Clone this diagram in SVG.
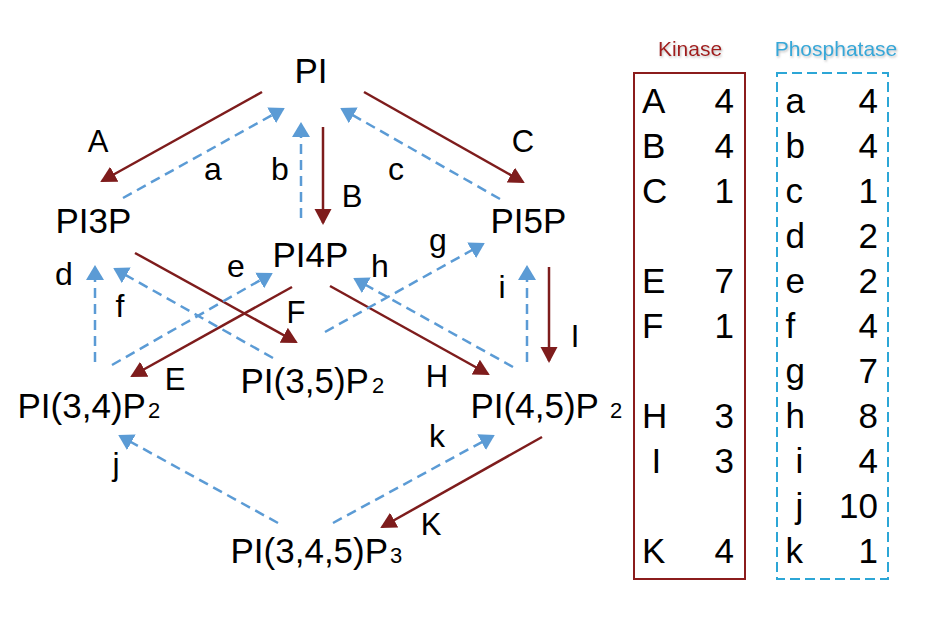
<svg xmlns="http://www.w3.org/2000/svg" width="932" height="635" viewBox="0 0 932 635">
  <style>
    .node { font-family: "Liberation Sans", Arial, sans-serif; font-size: 35px; fill: #000; }
    .sub { font-size: 22px; }
    .lbl { font-family: "Liberation Sans", Arial, sans-serif; font-size: 31px; fill: #000; text-anchor: middle; }
    .lc { font-size: 32px; }
    .kin { stroke: #7E1C1C; stroke-width: 2.5; fill: none; marker-end: url(#headK); }
    .pho { stroke: #5B9BD5; stroke-width: 2.5; fill: none; stroke-dasharray: 10 6; marker-end: url(#headP); }
    .tbl { font-family: "Liberation Sans", Arial, sans-serif; font-size: 35px; fill: #000; }
    .num { text-anchor: end; }
    .hdr { font-family: "Liberation Sans", Arial, sans-serif; font-size: 21px; text-anchor: middle; filter: url(#shadow); }
  </style>
  <defs>
    <marker id="headK" markerUnits="userSpaceOnUse" markerWidth="17" markerHeight="18" refX="14" refY="8.5" orient="auto">
      <path d="M0,0 L16,8.5 L0,17 Z" fill="#7E1C1C"/>
    </marker>
    <marker id="headP" markerUnits="userSpaceOnUse" markerWidth="16" markerHeight="18" refX="13" refY="9" orient="auto">
      <path d="M0,0 L15,9 L0,18 Z" fill="#5B9BD5"/>
    </marker>
    <filter id="shadow" x="-10%" y="-20%" width="120%" height="150%">
      <feDropShadow dx="1" dy="1.5" stdDeviation="0.8" flood-color="#888" flood-opacity="0.55"/>
    </filter>
  </defs>
  <rect width="932" height="635" fill="#fff"/>

  <g id="connectors">
    <g id="edge-A"><line class="kin" x1="262" y1="92" x2="102" y2="181"/><text class="lbl" x="98" y="152">A</text></g>
    <g id="edge-B"><line class="kin" x1="323" y1="127" x2="323" y2="223"/><text class="lbl" x="352" y="207">B</text></g>
    <g id="edge-C"><line class="kin" x1="364" y1="92" x2="523" y2="182"/><text class="lbl" x="523" y="152">C</text></g>
    <g id="edge-E"><line class="kin" x1="292" y1="287" x2="132" y2="376"/><text class="lbl" x="175" y="390">E</text></g>
    <g id="edge-F"><line class="kin" x1="135" y1="253" x2="296" y2="342"/><text class="lbl" x="296" y="323">F</text></g>
    <g id="edge-H"><line class="kin" x1="330" y1="286" x2="488" y2="374"/><text class="lbl" x="437" y="387">H</text></g>
    <g id="edge-I"><line class="kin" x1="549" y1="267" x2="549" y2="361"/><text class="lbl" x="575" y="347">I</text></g>
    <g id="edge-K"><line class="kin" x1="542" y1="437" x2="382" y2="527"/><text class="lbl" x="431" y="535">K</text></g>

    <g id="edge-a"><line class="pho" x1="123" y1="198" x2="283" y2="109"/><text class="lbl lc" x="213" y="180">a</text></g>
    <g id="edge-b"><line class="pho" x1="301" y1="218" x2="301" y2="124"/><text class="lbl lc" x="280" y="180">b</text></g>
    <g id="edge-c"><line class="pho" x1="500" y1="199" x2="342" y2="109"/><text class="lbl lc" x="396" y="180">c</text></g>
    <g id="edge-d"><line class="pho" x1="95" y1="362" x2="95" y2="267"/><text class="lbl lc" x="64" y="285">d</text></g>
    <g id="edge-e"><line class="pho" x1="112" y1="365" x2="271" y2="274"/><text class="lbl lc" x="236" y="277">e</text></g>
    <g id="edge-f"><line class="pho" x1="273" y1="358" x2="115" y2="269"/><text class="lbl lc" x="120" y="317">f</text></g>
    <g id="edge-g"><line class="pho" x1="325" y1="332" x2="483" y2="244"/><text class="lbl lc" x="438" y="251">g</text></g>
    <g id="edge-h"><line class="pho" x1="513" y1="367" x2="355" y2="279"/><text class="lbl lc" x="380" y="277">h</text></g>
    <g id="edge-i"><line class="pho" x1="527" y1="362" x2="527" y2="267"/><text class="lbl lc" x="502" y="298">i</text></g>
    <g id="edge-j"><line class="pho" x1="278" y1="523" x2="120" y2="436"/><text class="lbl lc" x="116" y="475">j</text></g>
    <g id="edge-k"><line class="pho" x1="333" y1="523" x2="493" y2="436"/><text class="lbl lc" x="437" y="447">k</text></g>
  </g>

  <g id="node-PI"><text class="node" x="294.5" y="83">PI</text></g>
  <g id="node-PI3P"><text class="node" x="55.5" y="233">PI3P</text></g>
  <g id="node-PI4P"><text class="node" x="272.5" y="267">PI4P</text></g>
  <g id="node-PI5P"><text class="node" x="490.5" y="233">PI5P</text></g>
  <g id="node-PI34P2"><text class="node" x="17.5" y="418">PI(3,4)P<tspan class="sub" dx="2">2</tspan></text></g>
  <g id="node-PI35P2"><text class="node" x="240.5" y="393">PI(3,5)P<tspan class="sub" dx="3">2</tspan></text></g>
  <g id="node-PI45P2"><text class="node" x="470.5" y="418">PI(4,5)P<tspan class="sub" dx="11">2</tspan></text></g>
  <g id="node-PI345P3"><text class="node" x="230.5" y="563">PI(3,4,5)P<tspan class="sub" dx="2">3</tspan></text></g>

  <g id="kinase-table">
    <text class="hdr" x="690" y="56" fill="#A21D1D">Kinase</text>
    <rect x="634" y="73" width="111" height="506" fill="none" stroke="#8B1C1C" stroke-width="2"/>
    <g class="tbl">
      <text x="642" y="113">A</text><text class="num" x="734" y="113">4</text>
      <text x="642" y="158">B</text><text class="num" x="734" y="158">4</text>
      <text x="642" y="203">C</text><text class="num" x="734" y="203">1</text>
      <text x="642" y="293">E</text><text class="num" x="734" y="293">7</text>
      <text x="642" y="338">F</text><text class="num" x="734" y="338">1</text>
      <text x="642" y="428">H</text><text class="num" x="734" y="428">3</text>
      <text x="651.5" y="473">I</text><text class="num" x="734" y="473">3</text>
      <text x="642" y="563">K</text><text class="num" x="734" y="563">4</text>
    </g>
  </g>

  <g id="phosphatase-table">
    <text class="hdr" x="836" y="56" fill="#36A8D8">Phosphatase</text>
    <rect x="777" y="73" width="111" height="506" fill="none" stroke="#2CA6D6" stroke-width="2" stroke-dasharray="10 5"/>
    <g class="tbl">
      <text x="785.5" y="113">a</text><text class="num" x="878" y="113">4</text>
      <text x="785.5" y="158">b</text><text class="num" x="878" y="158">4</text>
      <text x="785.5" y="203">c</text><text class="num" x="878" y="203">1</text>
      <text x="785.5" y="248">d</text><text class="num" x="878" y="248">2</text>
      <text x="785.5" y="293">e</text><text class="num" x="878" y="293">2</text>
      <text x="785.5" y="338">f</text><text class="num" x="878" y="338">4</text>
      <text x="785.5" y="383">g</text><text class="num" x="878" y="383">7</text>
      <text x="785.5" y="428">h</text><text class="num" x="878" y="428">8</text>
      <text x="795.5" y="473">i</text><text class="num" x="878" y="473">4</text>
      <text x="795.5" y="518">j</text><text class="num" x="878" y="518">10</text>
      <text x="785.5" y="563">k</text><text class="num" x="878" y="563">1</text>
    </g>
  </g>
</svg>
